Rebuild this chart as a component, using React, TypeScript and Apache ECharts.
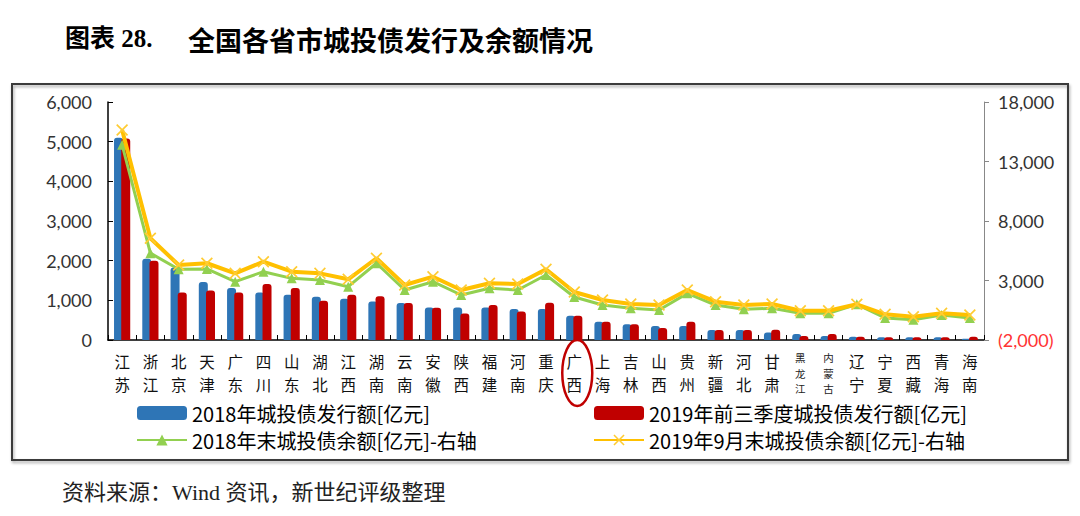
import React, { useEffect, useRef } from 'react';
import * as echarts from 'echarts';

const categories = ['江苏', '浙江', '北京', '天津', '广东', '四川', '山东', '湖北', '江西', '湖南', '云南', '安徽', '陕西', '福建', '河南', '重庆', '广西', '上海', '吉林', '山西', '贵州', '新疆', '河北', '甘肃', '黑龙江', '内蒙古', '辽宁', '宁夏', '西藏', '青海', '海南'];
const issuance2018 = [5100, 2050, 1830, 1460, 1310, 1200, 1140, 1090, 1040, 970, 930, 820, 820, 820, 780, 780, 610, 460, 400, 350, 350, 250, 250, 190, 150, 100, 80, 70, 70, 70, 30];
const issuance2019Q3 = [5080, 2000, 1200, 1250, 1200, 1410, 1310, 990, 1140, 1100, 930, 810, 670, 880, 720, 940, 610, 460, 400, 300, 460, 250, 250, 260, 100, 150, 80, 70, 70, 70, 80];
const balance2018 = [14400, 5300, 3940, 3970, 2900, 3740, 3180, 3040, 2480, 4450, 2200, 2900, 1780, 2350, 2200, 3460, 1610, 940, 660, 520, 1920, 940, 580, 660, 240, 240, 1000, -150, -300, 100, -150];
const balance2019Sep = [15650, 6550, 4300, 4450, 3600, 4580, 3740, 3600, 3100, 4870, 2620, 3320, 2200, 2770, 2700, 3940, 2030, 1360, 1030, 940, 2200, 1220, 940, 1030, 460, 460, 1000, 160, -40, 240, 100];
const leftTicks = { min: 0, max: 6000, interval: 1000 };
const rightTicks = { min: -2000, max: 18000, interval: 5000 };

const seriesNames = [
  '2018年城投债发行额[亿元]',
  '2019年前三季度城投债发行额[亿元]',
  '2018年末城投债余额[亿元]-右轴',
  '2019年9月末城投债余额[亿元]-右轴',
];
const highlighted = '广西';

const fmt = (v: number) => Math.abs(v).toLocaleString('en-US');
const NUM_FONT = 'Lato';
const CJK_FONT = '"Noto Sans CJK SC"';
const X_PATH = 'path://M0,1 L1,0 L5,4 L9,0 L10,1 L6,5 L10,9 L9,10 L5,6 L1,10 L0,9 L4,5 Z';

export default function App() {
  const ref = useRef<HTMLDivElement>(null);
  useEffect(() => {
    if (!ref.current) return;
    const chart = echarts.init(ref.current, undefined, { renderer: 'svg' });
    const legendText = { fontSize: 20, color: '#000', fontFamily: CJK_FONT };
    chart.setOption({
      animation: false,
      backgroundColor: '#fff',
      grid: { left: 108, right: 96, top: 102, bottom: 176, containLabel: false },
      legend: [
        {
          data: [seriesNames[0], seriesNames[2]],
          orient: 'vertical', left: 131, top: 398, itemWidth: 50, itemHeight: 14, itemGap: 7,
          textStyle: legendText, selectedMode: false,
        },
        {
          data: [seriesNames[1], seriesNames[3]],
          orient: 'vertical', left: 588, top: 398, itemWidth: 50, itemHeight: 14, itemGap: 7,
          textStyle: legendText, selectedMode: false,
        },
      ],
      xAxis: {
        type: 'category',
        data: categories,
        axisLine: { lineStyle: { color: '#000', width: 1.5 } },
        axisTick: { show: true, inside: true, length: 5, lineStyle: { color: '#000' } },
        axisLabel: {
          interval: 0,
          margin: 10,
          fontSize: 15.5,
          color: '#111',
          fontFamily: CJK_FONT,
          formatter: (v: string) => {
            const chars = v.split('');
            const key = chars.length > 2 ? 's' : 'a';
            return chars.map((c) => `{${key}|${c}}`).join('\n');
          },
          rich: {
            a: { color: '#111', fontSize: 15.5, lineHeight: 22.5, fontFamily: CJK_FONT },
            s: { color: '#222', fontSize: 10.5, lineHeight: 15.5, fontFamily: CJK_FONT },
          },
        },
      },
      yAxis: [
        {
          type: 'value', ...leftTicks,
          axisLine: { show: true, lineStyle: { color: '#000', width: 1.5 } },
          axisTick: { show: true, inside: true, length: 5, lineStyle: { color: '#000' } },
          splitLine: { show: false },
          axisLabel: { margin: 16, fontSize: 18, color: '#333', fontFamily: NUM_FONT, formatter: (v: number) => fmt(v) },
        },
        {
          type: 'value', ...rightTicks, position: 'right',
          axisLine: { show: true, lineStyle: { color: '#888', width: 1 } },
          axisTick: { show: true, inside: false, length: 5, lineStyle: { color: '#888' } },
          splitLine: { show: false },
          axisLabel: {
            margin: 14, fontSize: 18, color: '#333', fontFamily: NUM_FONT,
            formatter: (v: number) => (v < 0 ? `{n|(${fmt(v)})}` : fmt(v)),
            rich: { n: { color: '#ff3333', fontSize: 18, fontFamily: NUM_FONT } },
          },
        },
      ],
      series: [
        {
          name: seriesNames[0], type: 'bar', data: issuance2018, barWidth: 9, barGap: '-20%',
          itemStyle: { color: '#2E75B6', borderRadius: [3, 3, 0, 0] },
        },
        {
          name: seriesNames[1], type: 'bar', data: issuance2019Q3, barWidth: 9, barGap: '-20%',
          itemStyle: { color: '#C00000', borderRadius: [3, 3, 0, 0] },
        },
        {
          name: seriesNames[2], type: 'line', yAxisIndex: 1, data: balance2018,
          lineStyle: { color: '#92D050', width: 3 }, itemStyle: { color: '#92D050' },
          symbol: 'triangle', symbolSize: 10, showSymbol: true, z: 3,
        },
        {
          name: seriesNames[3], type: 'line', yAxisIndex: 1, data: balance2019Sep,
          lineStyle: { color: '#FFC000', width: 4 }, itemStyle: { color: '#FFCC33' },
          symbol: X_PATH, symbolSize: 12, showSymbol: true, z: 4,
        },
      ],
    });
    const cx = chart.convertToPixel({ xAxisIndex: 0 }, highlighted) as number;
    chart.setOption({
      graphic: [
        {
          type: 'rect', shape: { x: 12, y: 84, width: 1056, height: 376 },
          style: { fill: 'none', stroke: '#3a3a3a', lineWidth: 2, shadowBlur: 3, shadowColor: 'rgba(0,0,0,0.35)', shadowOffsetX: 1, shadowOffsetY: 2 },
          silent: true, z: -1,
        },
        {
          type: 'text', left: 65, top: 26,
          style: { text: '图表 28.', font: 'bold 25px "Liberation Serif", "Noto Sans CJK SC"', fill: '#000' },
        },
        {
          type: 'text', left: 188, top: 26,
          style: { text: '全国各省市城投债发行及余额情况', font: 'bold 27px "Noto Sans CJK SC"', fill: '#000' },
        },
        {
          type: 'text', left: 62, top: 481,
          style: { text: '资料来源：Wind 资讯，新世纪评级整理', font: '22px "Liberation Serif", "Noto Sans CJK SC"', fill: '#222' },
        },
        {
          type: 'ellipse', shape: { cx: cx + 3, cy: 373, rx: 15, ry: 33 },
          style: { fill: 'none', stroke: '#C00000', lineWidth: 2.5 }, z: 10,
        },
      ],
    });
    return () => chart.dispose();
  }, []);
  return <div ref={ref} style={{ position: 'fixed', left: 0, top: 0, width: 1080, height: 516 }} />;
}
